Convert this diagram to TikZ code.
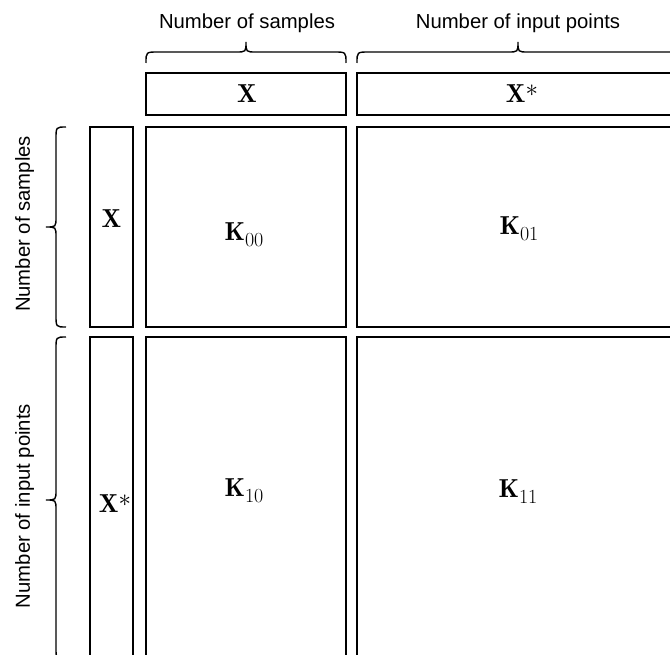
\documentclass[tikz,border=0pt]{standalone}
\usepackage{fontspec}
\newfontfamily\arialf{Liberation Sans}
\newcommand{\kmat}[1]{$\mathbf{K}$\raisebox{-6pt}{\fontsize{20}{20}\selectfont #1}}
\newcommand{\xstar}{$\mathbf{X}$\raisebox{6pt}{\fontsize{26}{26}\selectfont$*$}}
\begin{document}
\begin{tikzpicture}[x=1pt,y=-1pt,
  box/.style={draw, line width=1.6pt, inner sep=0pt, minimum width=#1},
  lab/.style={font=\arialf\fontsize{20.3}{22}\selectfont, inner sep=0pt},
  sym/.style={font=\fontsize{26}{30}\selectfont, inner sep=0pt, anchor=base},
  brc/.style={line width=1.4pt}]
\useasboundingbox (0,0) rectangle (670,655);
\clip (0,0) rectangle (670,655);
% top boxes
\node[box=200pt, minimum height=42pt] (tX) at (246,94) {};
\node[box=322pt, minimum height=42pt] (tXs) at (518,94) {};
% left boxes
\node[box=43pt, minimum height=200pt] (lX) at (111.5,227) {};
\node[box=43pt, minimum height=330pt] (lXs) at (111.5,502) {};
% kernel blocks
\node[box=200pt, minimum height=200pt] (K00) at (246,227) {};
\node[box=322pt, minimum height=200pt] (K01) at (518,227) {};
\node[box=200pt, minimum height=330pt] (K10) at (246,502) {};
\node[box=322pt, minimum height=330pt] (K11) at (518,502) {};
% labels inside
\node[sym] (tXl) at (247,103) {$\mathbf{X}$};
\node[sym] (tXsl) at (522,103) {\xstar};
\node[sym] (lXl) at (111.5,228) {$\mathbf{X}$};
\node[sym] (lXsl) at (115,512) {\xstar};
\node[sym] (K00l) at (244,241) {\kmat{00}};
\node[sym] (K01l) at (519,235) {\kmat{01}};
\node[sym] (K10l) at (244,496) {\kmat{10}};
\node[sym] (K11l) at (518,497) {\kmat{11}};
% top braces
\draw[brc] (146,63) .. controls (146,52) .. (158,52) -- (236,52) .. controls (246,52) .. (246,42)
  .. controls (246,52) .. (256,52) -- (334,52) .. controls (346,52) .. (346,63);
\draw[brc] (357,63) .. controls (357,52) .. (369,52) -- (508,52) .. controls (518,52) .. (518,42)
  .. controls (518,52) .. (528,52) -- (667,52) .. controls (679,52) .. (679,63);
% left braces
\draw[brc] (66,127) .. controls (56,127) .. (56,139) -- (56,217) .. controls (56,227) .. (46,227)
  .. controls (56,227) .. (56,237) -- (56,315) .. controls (56,327) .. (66,327);
\draw[brc] (66,337) .. controls (56,337) .. (56,349) -- (56,490) .. controls (56,500) .. (46,500)
  .. controls (56,500) .. (56,510) -- (56,648) .. controls (56,659) .. (66,659);
% brace labels
\node[lab, anchor=base] (ts) at (247,29) {Number of samples};
\node[lab, anchor=base] (tp) at (518,29) {Number of input points};
\node[lab, anchor=base, rotate=90] (ls) at (30,224) {Number of samples};
\node[lab, anchor=base, rotate=90] (lp) at (30,506) {Number of input points};
\end{tikzpicture}
\end{document}
